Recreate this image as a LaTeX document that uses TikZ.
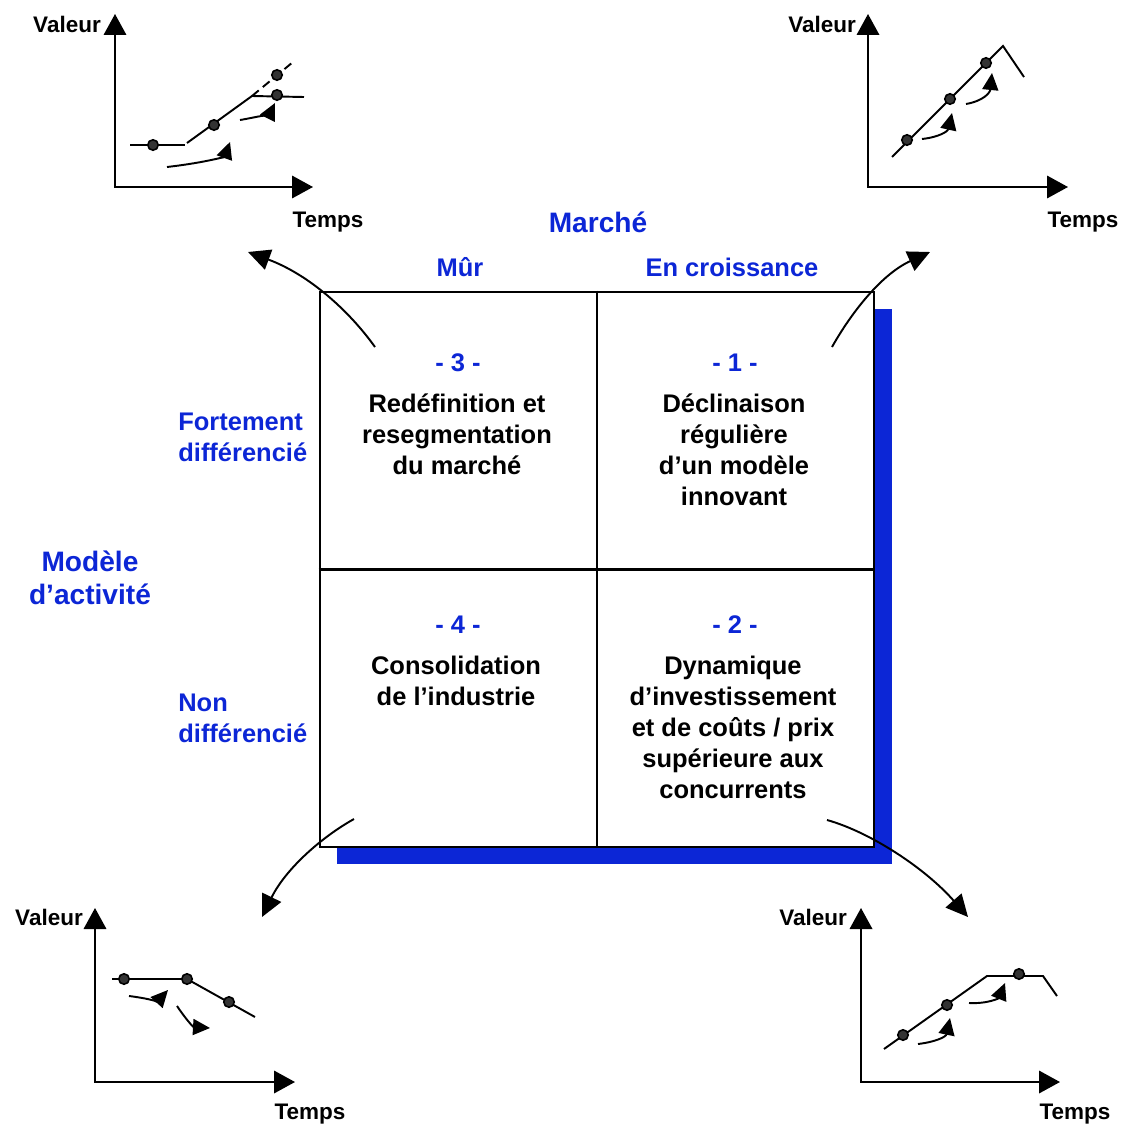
\documentclass[tikz,border=0pt]{standalone}
\usepackage{fontspec}
\setmainfont{Liberation Sans}
\usetikzlibrary{arrows.meta,positioning}
\definecolor{bleu}{RGB}{12,38,214}

\begin{document}
\begin{tikzpicture}[x=0.02cm,y=-0.02cm,
    axe/.style={line width=1.1pt,{Triangle[length=0.42cm,width=0.45cm]}-{Triangle[length=0.42cm,width=0.45cm]}},
    courbe/.style={line width=1.1pt},
    fleche/.style={line width=1.1pt,-{Triangle[length=0.34cm,width=0.32cm]}},
    grande/.style={line width=1.1pt,-{Triangle[length=0.44cm,width=0.42cm]}},
    point/.style={circle,draw=black,fill=black!80,line width=0.9pt,inner sep=0pt,minimum size=0.21cm},
    etiq/.style={font=\fontsize{12.8}{15}\selectfont\bfseries,inner sep=0pt,anchor=base},
    titre/.style={font=\fontsize{16}{18.7}\selectfont\bfseries,text=bleu,inner sep=0pt,anchor=base,align=center},
    ligne/.style={font=\fontsize{14.5}{17.6}\selectfont\bfseries,text=bleu,inner sep=0pt,anchor=base},
    case/.style={font=\fontsize{14.5}{17.6}\selectfont\bfseries,align=center,inner sep=0pt,anchor=base}]
    \useasboundingbox (0,0) rectangle (1122,1126);

    % matrice
    \fill[bleu] (337,309) rectangle (892,864);
    \node[draw,fill=white,line width=1.5pt,inner sep=0pt,minimum width=11.08cm,minimum height=11.1cm] (grille) at (597,569.5) {};
    \draw[line width=1.5pt] (grille.north) -- (grille.south);
    \draw[line width=1.5pt] (grille.west) -- (grille.east);

    \node[titre] (marche) at (598,232) {Marché};
    \node[ligne] (mur) at (460,276) {Mûr};
    \node[ligne] (crois) at (732,276) {En croissance};
    \node[titre] (modele) at (90,604) {Modèle\\d’activité};
    \node[ligne,align=left,anchor=base west] (fort) at (178,461) {Fortement\\différencié};
    \node[ligne,align=left,anchor=base west] (non) at (178,742) {Non\\différencié};

    % base = derniere ligne
    \node[ligne] (n3) at (458,371) {- 3 -};
    \node[case] (t3) at (457,474) {Redéfinition et\\resegmentation\\du marché};
    \node[ligne] (n1) at (735,371) {- 1 -};
    \node[case] (t1) at (734,505) {Déclinaison\\régulière\\d’un modèle\\innovant};
    \node[ligne] (n4) at (458,633) {- 4 -};
    \node[case] (t4) at (456,705) {Consolidation\\de l’industrie};
    \node[ligne] (n2) at (735,633) {- 2 -};
    \node[case] (t2) at (733,798) {Dynamique\\d’investissement\\et de coûts / prix\\supérieure aux\\concurrents};

    % grandes fleches
    \coordinate (d3) at (375,347);  \coordinate (g3) at (248,252);
    \coordinate (d1) at (832,347);  \coordinate (g1) at (930,252);
    \coordinate (d4) at (354,819);  \coordinate (g4) at (262,917);
    \coordinate (d2) at (827,820);  \coordinate (g2) at (968,917);
    \draw[grande] (d3) .. controls (350,312) and (310,275) .. (g3);
    \draw[grande] (d1) .. controls (850,315) and (880,275) .. (g1);
    \draw[grande] (d4) .. controls (320,838) and (285,870) .. (g4);
    \draw[grande] (d2) .. controls (870,832) and (925,868) .. (g2);

    % graphe 3
    \coordinate (ya) at (115,14); \coordinate (oa) at (115,187); \coordinate (xa) at (313,187);
    \draw[axe] (ya) -- (oa) -- (xa);
    \node[etiq] (va) at (67,32) {Valeur};
    \node[etiq] (ta) at (328,227) {Temps};
    \draw[courbe] (130,145) -- (185,145);
    \draw[courbe] (187,143) -- (252,96) -- (304,97);
    \draw[courbe,dash pattern=on 5pt off 3pt] (252,96) -- (293,62);
    \node[point] (a1) at (153,145) {};
    \node[point] (a2) at (214,125) {};
    \node[point] (a3) at (277,95) {};
    \node[point] (a4) at (277,75) {};
    \draw[fleche] (167,167) .. controls (210,162) and (225,156) .. (230,142);
    \draw[fleche] (240,120) .. controls (258,117) and (270,113) .. (275,103);

    % graphe 1
    \coordinate (yb) at (868,14); \coordinate (ob) at (868,187); \coordinate (xb) at (1068,187);
    \draw[axe] (yb) -- (ob) -- (xb);
    \node[etiq] (vb) at (822,32) {Valeur};
    \node[etiq] (tb) at (1083,227) {Temps};
    \draw[courbe] (892,157) -- (1003,46) -- (1024,77);
    \node[point] (b1) at (907,140) {};
    \node[point] (b2) at (950,99) {};
    \node[point] (b3) at (986,63) {};
    \draw[fleche] (922,139) .. controls (940,137) and (948,131) .. (952,113);
    \draw[fleche] (966,104) .. controls (983,101) and (990,93) .. (992,73);

    % graphe 4
    \coordinate (yc) at (95,908); \coordinate (oc) at (95,1082); \coordinate (xc) at (295,1082);
    \draw[axe] (yc) -- (oc) -- (xc);
    \node[etiq] (vc) at (49,925) {Valeur};
    \node[etiq] (tc) at (310,1119) {Temps};
    \draw[courbe] (112,979) -- (187,979) -- (255,1017);
    \node[point] (c1) at (124,979) {};
    \node[point] (c2) at (187,979) {};
    \node[point] (c3) at (229,1002) {};
    \draw[fleche] (129,996) .. controls (145,998) and (158,1001) .. (168,990);
    \draw[fleche] (177,1006) .. controls (185,1018) and (193,1027) .. (210,1028);

    % graphe 2
    \coordinate (yd) at (861,908); \coordinate (od) at (861,1082); \coordinate (xd) at (1060,1082);
    \draw[axe] (yd) -- (od) -- (xd);
    \node[etiq] (vd) at (813,925) {Valeur};
    \node[etiq] (td) at (1075,1119) {Temps};
    \draw[courbe] (884,1049) -- (987,976) -- (1043,976) -- (1057,996);
    \node[point] (e1) at (903,1035) {};
    \node[point] (e2) at (947,1005) {};
    \node[point] (e3) at (1019,974) {};
    \draw[fleche] (918,1044) .. controls (935,1042) and (946,1037) .. (950,1018);
    \draw[fleche] (969,1003) .. controls (988,1004) and (999,998) .. (1005,983);
\end{tikzpicture}
\end{document}
